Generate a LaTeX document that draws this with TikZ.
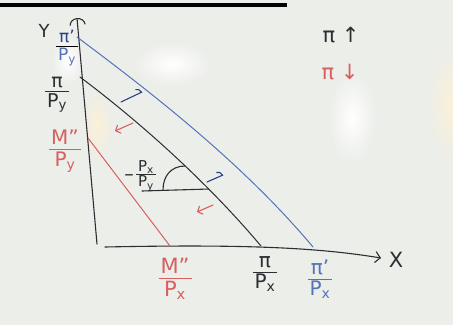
\documentclass[tikz,border=0pt]{standalone}
\usepackage{fontspec}
\setmainfont{DejaVu Sans}
\usetikzlibrary{arrows.meta,intersections}
\definecolor{board}{RGB}{236,238,234}
\definecolor{ink}{RGB}{45,45,50}
\definecolor{bluink}{RGB}{85,115,185}
\definecolor{navy}{RGB}{45,65,135}
\definecolor{redink}{RGB}{215,95,95}
\definecolor{warm}{RGB}{250,240,215}
\setlength{\arrayrulewidth}{1pt}
\newcommand{\fr}[2]{\begin{tabular}{@{\hspace{2pt}}c@{\hspace{2pt}}}#1\\[-2pt]\hline\noalign{\vskip 1pt}#2\end{tabular}}
\begin{document}
\begin{tikzpicture}[x=1pt,y=-1pt,line cap=round,line join=round,
  axis/.style={draw=ink,line width=1.1pt},
  budget/.style={line width=1pt},
  lbl/.style={inner sep=0pt,font=\fontsize{19}{20}\selectfont},
  big/.style={inner sep=0pt,font=\fontsize{21}{22}\selectfont},
  small/.style={line width=1.1pt},
  hook/.style={-{Arc Barb[harpoon,length=5pt,width=11pt]}},
  barb/.style={-{Straight Barb[length=4pt,width=9pt]}}]
\fill[board] (0,0) rectangle (453,325);
\useasboundingbox (0,0) rectangle (453,325);
% glare on the board
\shade[inner color=white,outer color=board] (172,64) ellipse [x radius=38,y radius=22];
\shade[inner color=white,outer color=board] (352,118) ellipse [x radius=24,y radius=45];
\shade[inner color=warm,outer color=board] (452,105) ellipse [x radius=26,y radius=58];
\shade[inner color=warm,outer color=board] (97,125) ellipse [x radius=16,y radius=35];
\shade[inner color=white,outer color=board] (68,60) ellipse [x radius=16,y radius=25];
% black bar at the top
\fill[black] (0,3) rectangle (287,7);
% axes
\coordinate (O) at (97,244);
\coordinate (Ytop) at (77,18);
\coordinate (Xs) at (105,247);
\coordinate (Xend) at (381,258);
\draw[axis,-{Arc Barb[length=7pt,width=16pt]}] (O) -- (Ytop);
\draw[axis,-{Straight Barb[length=5pt,width=11pt]}] (Xs) .. controls (250,244) and (320,248) .. (Xend);
% budget lines
\coordinate (B1) at (77,37);
\coordinate (B2) at (313,247);
\coordinate (K1) at (80,77);
\coordinate (K2) at (261,246);
\coordinate (R1) at (88,138);
\coordinate (R2) at (170,246);
\draw[budget,bluink] (B1) .. controls (145,88) and (240,160) .. (B2);
\draw[budget,ink,name path=kline] (K1) .. controls (132,116) and (202,176) .. (K2);
\draw[budget,redink] (R1) -- (R2);
% slope angle
\path[name path=hline] (140,189) -- (240,189);
\path[name path=hline2] (140,166) -- (240,166);
\path[name intersections={of=kline and hline,by=V}];
\path[name intersections={of=kline and hline2,by=A2}];
\coordinate (Ab) at (142,191);
\coordinate (A1) at (163,190);
\draw[small,ink] (Ab) -- (V);
\draw[small,ink] (A1) .. controls (163,176) and (171,166) .. (A2);
% labels on the axes
\node[lbl,ink,font=\fontsize{18}{18}\selectfont] (Ylab) at (44,31) {Y};
\node[lbl,font=\fontsize{17}{18}\selectfont] (piPy1) at (67,48) {\fr{\textcolor{navy}{π'}}{\textcolor{bluink}{P\textsubscript{y}}}};
\node[lbl,ink] (piPy) at (57,93) {\fr{π}{P\textsubscript{y}}};
\node[lbl,redink,font=\fontsize{20}{22}\selectfont] (MPy) at (65,151) {\fr{M''}{P\textsubscript{y}}};
\node[lbl,ink,anchor=east] (minus) at (134,178) {–};
\node[lbl,ink,font=\fontsize{15}{15}\selectfont] (slope) at (146,176) {\fr{P\textsubscript{x}}{P\textsubscript{y}}};
\node[lbl,redink,font=\fontsize{21}{23}\selectfont] (MPx) at (175,280) {\fr{M''}{P\textsubscript{x}}};
\node[lbl,ink,font=\fontsize{20}{21}\selectfont] (piPx) at (265,274) {\fr{π}{P\textsubscript{x}}};
\node[lbl,bluink,font=\fontsize{20}{21}\selectfont] (piPx1) at (320,281) {\fr{π'}{P\textsubscript{x}}};
\node[big,ink] (Xlab) at (396,260) {X};
\node[big,ink] (piup) at (341,35) {π ↑};
\node[big,redink] (pidown) at (340,72) {π ↓};
% small shift arrows
\coordinate (ba1s) at (121,102);
\coordinate (ba1e) at (142,92);
\coordinate (ba2s) at (207,182);
\coordinate (ba2e) at (223,175);
\coordinate (ra1s) at (133,123);
\coordinate (ra1e) at (115,131);
\coordinate (ra2s) at (213,205);
\coordinate (ra2e) at (197,212);
\draw[small,navy,hook] (ba1s) -- (ba1e);
\draw[small,navy,hook] (ba2s) -- (ba2e);
\draw[small,redink,barb] (ra1s) -- (ra1e);
\draw[small,redink,barb] (ra2s) -- (ra2e);
\end{tikzpicture}
\end{document}
